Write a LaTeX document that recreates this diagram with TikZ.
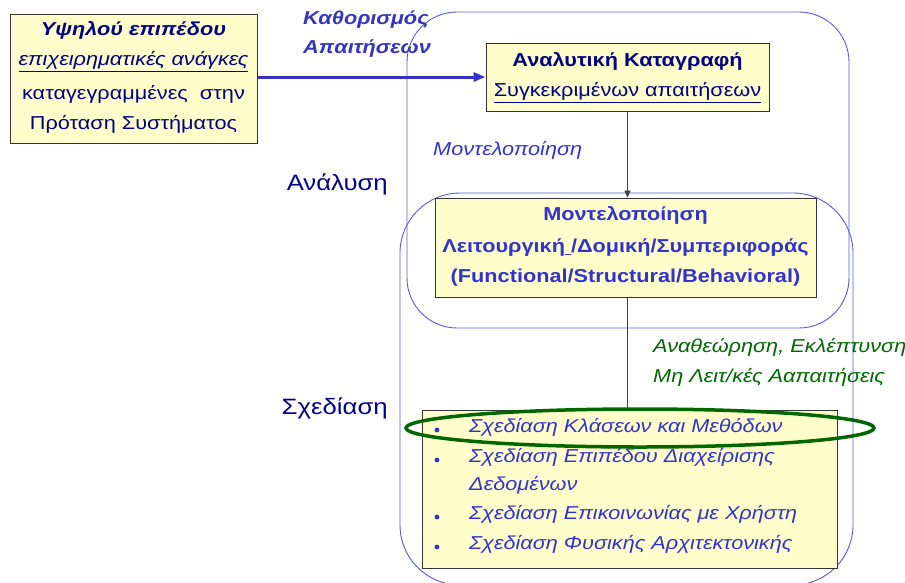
\documentclass[tikz,border=0pt]{standalone}
\usepackage{fontspec}
\setmainfont{Liberation Sans}[FakeStretch=1.16]
\usetikzlibrary{arrows.meta}
\definecolor{navy}{HTML}{000080}
\definecolor{midblue}{HTML}{3333CC}
\definecolor{labelblue}{HTML}{3535BB}
\definecolor{frameblue}{HTML}{5A5AD8}
\definecolor{boxfill}{HTML}{FFFFCC}
\definecolor{leafgreen}{HTML}{006600}
\newcommand{\txt}{\fontsize{18.7}{22}\selectfont}
\newcommand{\bigtxt}{\fontsize{22.2}{26}\selectfont}
\tikzset{
  notebox/.style={draw=black!80, line width=1pt, fill=boxfill, inner sep=0pt},
  phase/.style={draw=frameblue, line width=0.9pt},
  line/.style={inner sep=0pt, anchor=mid, font=\txt},
  lefttxt/.style={inner sep=0pt, anchor=mid west, font=\txt},
  flow/.style={draw=black!75, line width=0.9pt},
}
\begin{document}
\begin{tikzpicture}[x=1pt,y=-1pt]
\useasboundingbox (0,0) rectangle (905,582);
\begin{scope}
\clip (0,0) rectangle (905,582);
% phase frames: analysis and design
\draw[phase, rounded corners=50] (407,12) rectangle (849,328);
\draw[phase, rounded corners=60] (400,193) rectangle (853,585);
\end{scope}

% boxes
\node[notebox, minimum width=247pt, minimum height=129pt] (b1) at (133.5,78.5) {};
\node[notebox, minimum width=283pt, minimum height=68pt] (b2) at (627.5,77) {};
\node[notebox, minimum width=381pt, minimum height=99pt] (b3) at (625.5,247.5) {};
\node[notebox, minimum width=415pt, minimum height=158pt] (b4) at (629.5,489) {};

% texts of the first box
\node[line, text=navy] (t11) at (133.5,33) {\textbf{\textit{Υψηλού επιπέδου}}};
\node[line, text=navy] (t12) at (133.5,63) {\underline{\textit{επιχειρηματικές ανάγκες}}};
\node[line, text=navy] (t13) at (133.5,97) {καταγεγραμμένες\ \ στην};
\node[line, text=navy] (t14) at (133.5,127) {Πρόταση Συστήματος};

% texts of the second box
\node[line, text=navy] (t21) at (627.5,64) {\textbf{Αναλυτική Καταγραφή}};
\node[line, text=navy] (t22) at (627.5,94) {\underline{Συγκεκριμένων απαιτήσεων}};

% texts of the third box
\node[line, text=midblue] (t31) at (625.5,218) {\textbf{Μοντελοποίηση}};
\node[line, text=midblue] (t32) at (625.5,250) {\textbf{Λειτουργική\underline{\ }/Δομική/Συμπεριφοράς}};
\node[line, text=midblue] (t33) at (625.5,280) {\textbf{(Functional/Structural/Behavioral)}};

% design items
\foreach \y/\t [count=\i] in {430/Σχεδίαση Κλάσεων και Μεθόδων,
                              460/Σχεδίαση Επιπέδου Διαχείρισης,
                              517/Σχεδίαση Επικοινωνίας με Χρήστη,
                              547/Σχεδίαση Φυσικής Αρχιτεκτονικής}{
  \node[lefttxt, text=midblue] (item\i) at (469,\y) {\textit{\t}};
  \fill[midblue] (437,\y) circle (2.4pt);
}
\node[lefttxt, text=midblue] (item2b) at (469,488) {\textit{Δεδομένων}};

% side labels
\node[lefttxt, text=labelblue] (l1) at (303,22) {\textbf{\textit{Καθορισμός}}};
\node[lefttxt, text=labelblue] (l2) at (303,51) {\textbf{\textit{Απαιτήσεων}}};
\node[lefttxt, text=midblue] (l3) at (433,153) {\textit{Μοντελοποίηση}};
\node[lefttxt, text=leafgreen] (l4) at (653,350) {\textit{Αναθεώρηση, Εκλέπτυνση}};
\node[lefttxt, text=leafgreen] (l5) at (653,380) {\textit{Μη Λειτ/κές Ααπαιτήσεις}};
\node[inner sep=0pt, anchor=mid east, font=\bigtxt, text=navy!90!blue] (p1) at (388,188) {Ανάλυση};
\node[inner sep=0pt, anchor=mid east, font=\bigtxt, text=navy!90!blue] (p2) at (388,412) {Σχεδίαση};

% connectors
\draw[midblue, line width=3pt, -{Triangle[length=12pt,width=9pt]}] (b2.west -| b1.east) -- (b2.west);
\draw[flow, -{Triangle[length=7pt,width=6pt]}] (b2.south) -- (b2.south |- b3.north);
\draw[flow] (b3.south -| b2.south) -- (b4.north -| b2.south);

% highlight ring around the first design item
\draw[leafgreen, line width=3.5pt] (640,428) ellipse [x radius=234pt, y radius=19pt];
\end{tikzpicture}
\end{document}
